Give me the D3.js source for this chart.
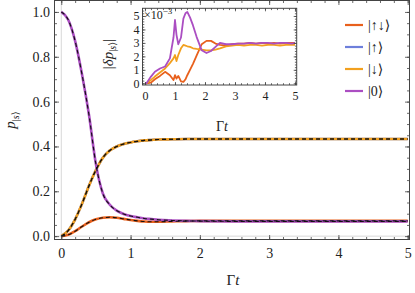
<!DOCTYPE html>
<html>
<head>
<meta charset="utf-8">
<script src="https://cdn.jsdelivr.net/npm/d3@7"></script>
<style>
  body { margin: 0; background: #fff; }
  svg text { font-family: "Liberation Serif", "DejaVu Serif", serif; fill: #222; }
</style>
</head>
<body>
<div id="chart"></div>
<script>
// main panel: populations vs Gamma t
var tMain    = [0, 0.1, 0.2, 0.3, 0.4, 0.5, 0.6, 0.7, 0.8, 0.9, 1.0, 1.1, 1.2, 1.3, 1.4, 1.6, 1.8, 2.0, 2.5, 3.0, 3.5, 4.0, 4.5, 5.0];
var pUpDown  = [0, 0.006, 0.022, 0.043, 0.062, 0.075, 0.082, 0.084, 0.082, 0.077, 0.072, 0.068, 0.065, 0.064, 0.064, 0.066, 0.067, 0.068, 0.068, 0.068, 0.068, 0.068, 0.068, 0.068];
var pUp      = [0, 0.025, 0.075, 0.145, 0.225, 0.295, 0.350, 0.382, 0.400, 0.411, 0.418, 0.423, 0.427, 0.429, 0.431, 0.432, 0.433, 0.433, 0.433, 0.433, 0.433, 0.433, 0.433, 0.433];
var pDown    = [0, 0.025, 0.075, 0.145, 0.225, 0.295, 0.350, 0.382, 0.400, 0.411, 0.418, 0.423, 0.427, 0.429, 0.431, 0.432, 0.433, 0.433, 0.433, 0.433, 0.433, 0.433, 0.433, 0.433];
var pZero    = [1.0, 0.965, 0.870, 0.720, 0.540, 0.320, 0.190, 0.140, 0.114, 0.099, 0.090, 0.084, 0.079, 0.076, 0.073, 0.070, 0.068, 0.067, 0.066, 0.066, 0.066, 0.066, 0.066, 0.066];

// inset: |delta p| in units of 1e-3
var tInset    = [0, 0.05, 0.2, 0.33, 0.5, 0.67, 0.83, 0.95, 1.0, 1.05, 1.11, 1.2, 1.28, 1.35, 1.41, 1.5, 1.6, 1.72, 1.89, 2.05, 2.2, 2.35, 2.5, 2.7, 2.9, 3.1, 3.3, 3.5, 3.7, 3.9, 4.1, 4.3, 4.5, 4.7, 4.9, 5.0];
var dUpDown   = [0, 0, 0.05, 0.3, 0.55, 0.85, 0.6, 0.25, 0.6, 0.35, 0.55, 0.15, 0.1, 0.3, 0.6, 1.0, 1.45, 2.05, 2.9, 3.15, 3.15, 2.95, 2.85, 2.8, 2.9, 2.95, 2.95, 3.0, 2.95, 3.0, 2.95, 3.0, 2.95, 3.0, 3.0, 3.0];
var dDown     = [0, 0, 0.25, 0.5, 0.8, 1.1, 1.5, 1.85, 2.1, 1.65, 2.1, 2.6, 2.85, 2.8, 2.75, 2.7, 2.6, 2.55, 2.5, 2.45, 2.45, 2.5, 2.6, 2.75, 2.8, 2.85, 2.8, 2.85, 2.85, 2.8, 2.85, 2.85, 2.8, 2.85, 2.85, 2.85];
var dZero     = [0, 0, 0.5, 0.86, 1.1, 1.25, 1.85, 3.4, 4.7, 3.6, 2.9, 3.4, 4.8, 5.2, 5.3, 4.9, 4.3, 3.45, 2.45, 2.25, 2.4, 2.7, 3.0, 2.9, 2.9, 2.95, 2.95, 3.0, 2.95, 3.0, 3.0, 2.95, 3.0, 3.0, 2.95, 3.0];

var labels = ["|\u2191\u2193\u27E9", "|\u2191\u27E9", "|\u2193\u27E9", "|0\u27E9"];
var colors = ["#e8601c", "#6d7fdb", "#f2a01f", "#ab4ec2"];

var xTicks = [0, 1, 2, 3, 4, 5];
var yTicks = [0, 0.2, 0.4, 0.6, 0.8, 1.0];
var insetXTicks = [0, 1, 2, 3, 4, 5];
var insetYTicks = [0, 1, 2, 3, 4, 5];

var width = 415, height = 293;

var svg = d3.select("#chart").append("svg")
    .attr("width", width)
    .attr("height", height);

var frameColor = "#444";

// scales
var x = d3.scaleLinear().domain([-0.098, 5.026]).range([54.5, 409.5]);
var y = d3.scaleLinear().domain([-0.015, 1.051]).range([239.5, 0.5]);

var xi = d3.scaleLinear().domain([-0.083, 5.057]).range([142.5, 296.7]);
var yi = d3.scaleLinear().domain([-0.126, 5.57]).range([85, 8.3]);

function frameAxes(g, sx, sy, xt, yt, xMinor, yMinor, fontSize, xPad, yPad, major, minor) {
  var x0 = sx.range()[0], x1 = sx.range()[1];
  var y0 = sy.range()[0], y1 = sy.range()[1];

  // minor ticks, all four sides
  g.append("g").attr("transform", "translate(0," + y0 + ")")
    .call(d3.axisBottom(sx).tickValues(xMinor).tickSize(-minor).tickSizeOuter(0).tickFormat(""));
  g.append("g").attr("transform", "translate(0," + y1 + ")")
    .call(d3.axisTop(sx).tickValues(xMinor).tickSize(-minor).tickSizeOuter(0).tickFormat(""));
  g.append("g").attr("transform", "translate(" + x0 + ",0)")
    .call(d3.axisLeft(sy).tickValues(yMinor).tickSize(-minor).tickSizeOuter(0).tickFormat(""));
  g.append("g").attr("transform", "translate(" + x1 + ",0)")
    .call(d3.axisRight(sy).tickValues(yMinor).tickSize(-minor).tickSizeOuter(0).tickFormat(""));

  // major ticks
  g.append("g").attr("transform", "translate(0," + y0 + ")")
    .call(d3.axisBottom(sx).tickValues(xt).tickSize(-major).tickSizeOuter(0).tickPadding(xPad)
      .tickFormat(d3.format("d")));
  g.append("g").attr("transform", "translate(0," + y1 + ")")
    .call(d3.axisTop(sx).tickValues(xt).tickSize(-major).tickSizeOuter(0).tickFormat(""));
  g.append("g").attr("transform", "translate(" + x0 + ",0)")
    .call(d3.axisLeft(sy).tickValues(yt).tickSize(-major).tickSizeOuter(0).tickPadding(yPad)
      .tickFormat(sy.domain()[1] > 2 ? d3.format("d") : d3.format(".1f")));
  g.append("g").attr("transform", "translate(" + x1 + ",0)")
    .call(d3.axisRight(sy).tickValues(yt).tickSize(-major).tickSizeOuter(0).tickFormat(""));

  g.selectAll(".domain").remove();
  g.selectAll(".tick line").attr("stroke", frameColor).attr("stroke-width", 0.8);
  g.selectAll(".tick text").attr("font-size", fontSize).attr("fill", "#222")
    .style("font-family", "'Liberation Serif', serif");

  g.append("rect")
    .attr("x", x0).attr("y", y1)
    .attr("width", x1 - x0).attr("height", y0 - y1)
    .attr("fill", "none").attr("stroke", frameColor).attr("stroke-width", 1);
}

// ---- main panel ----
var main = svg.append("g");

// faint zero lines
main.append("line")
  .attr("x1", x(0)).attr("x2", x(0)).attr("y1", y.range()[0]).attr("y2", y.range()[1])
  .attr("stroke", "#d8d8d8").attr("stroke-width", 1);
main.append("line")
  .attr("x1", x.range()[0]).attr("x2", x.range()[1]).attr("y1", y(0)).attr("y2", y(0))
  .attr("stroke", "#d8d8d8").attr("stroke-width", 1);

var mainSeries = [pUpDown, pUp, pDown, pZero];
var lineMain = d3.line()
  .x(function(d, i) { return x(tMain[i]); })
  .y(function(d) { return y(d); })
  .curve(d3.curveMonotoneX);

mainSeries.forEach(function(s, k) {
  main.append("path")
    .datum(s)
    .attr("fill", "none")
    .attr("stroke", colors[k])
    .attr("stroke-width", 2.6)
    .attr("d", lineMain);
});
mainSeries.forEach(function(s) {
  main.append("path")
    .datum(s)
    .attr("fill", "none")
    .attr("stroke", "#111")
    .attr("stroke-width", 1.1)
    .attr("stroke-dasharray", "4,3")
    .attr("d", lineMain);
});

frameAxes(main, x, y, xTicks, yTicks, d3.range(0, 5.01, 0.2), d3.range(0, 1.001, 0.05), 14, 8.5, 4.5, 4.5, 2.5);

// axis titles
main.append("text")
  .attr("x", 233).attr("y", 285)
  .attr("text-anchor", "middle").attr("font-size", 15)
  .html("\u0393<tspan font-style='italic'>t</tspan>");

main.append("text")
  .attr("transform", "translate(15,120) rotate(-90)")
  .attr("text-anchor", "middle").attr("font-size", 15)
  .html("<tspan font-style='italic'>p</tspan><tspan font-size='10' dy='4'>|<tspan font-style='italic'>s</tspan>\u27E9</tspan>");

// legend
var legend = main.append("g");
labels.forEach(function(lab, k) {
  var ly = 25 + k * 22;
  legend.append("line")
    .attr("x1", 345).attr("x2", 363).attr("y1", ly).attr("y2", ly)
    .attr("stroke", colors[k]).attr("stroke-width", 2.2);
  legend.append("text")
    .attr("x", 368).attr("y", ly + 5)
    .attr("font-size", 14)
    .text(lab);
});

// ---- inset ----
var inset = svg.append("g");
inset.append("rect")
  .attr("x", 142.5).attr("y", 8.3).attr("width", 296.7 - 142.5).attr("height", 85 - 8.3)
  .attr("fill", "#fff");

var lineInset = d3.line()
  .x(function(d, i) { return xi(tInset[i]); })
  .y(function(d) { return yi(d); });

[[dUpDown, 0], [dDown, 2], [dZero, 3]].forEach(function(p) {
  inset.append("path")
    .datum(p[0])
    .attr("fill", "none")
    .attr("stroke", colors[p[1]])
    .attr("stroke-width", 1.8)
    .attr("stroke-linejoin", "round")
    .attr("d", lineInset);
});

frameAxes(inset, xi, yi, insetXTicks, insetYTicks, d3.range(0, 5.01, 0.2), d3.range(0, 5.5, 0.2), 12, 6, 3, 3, 1.8);

inset.append("text")
  .attr("x", 144).attr("y", 19)
  .attr("font-size", 12)
  .html("\u00D710<tspan font-size='9' dy='-5'>\u22123</tspan>");

inset.append("text")
  .attr("x", 222).attr("y", 131)
  .attr("text-anchor", "middle").attr("font-size", 14)
  .html("\u0393<tspan font-style='italic'>t</tspan>");

inset.append("text")
  .attr("transform", "translate(113,54) rotate(-90)")
  .attr("text-anchor", "middle").attr("font-size", 15)
  .html("|<tspan font-style='italic'>\u03B4p</tspan><tspan font-size='10' dy='3'>|<tspan font-style='italic'>s</tspan>\u27E9</tspan><tspan dy='-3'>|</tspan>");
</script>
</body>
</html>
